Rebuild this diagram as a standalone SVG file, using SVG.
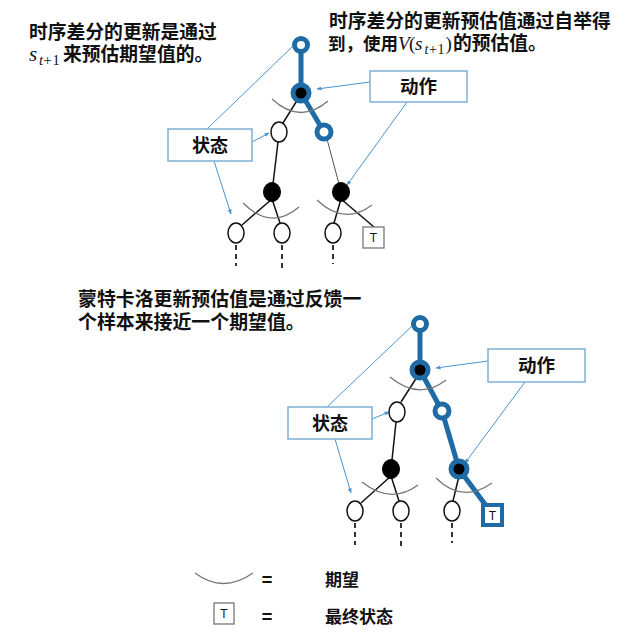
<svg xmlns="http://www.w3.org/2000/svg" width="641" height="634" viewBox="0 0 641 634">
<defs>
<marker id="arr" viewBox="0 0 10 10" refX="9" refY="5" markerWidth="5" markerHeight="5" orient="auto">
<path d="M0,1 L10,5 L0,9 z" fill="#4a95cf"/>
</marker>
<style>
.txt{font-family:"Noto Sans CJK SC","Noto Sans",sans-serif;font-weight:700;fill:#111;}
.mth{font-family:"Liberation Serif",serif;font-style:italic;fill:#111;}
.up{font-style:normal;}
.box{fill:#fff;stroke:#7fb0d5;stroke-width:1.5;}
.call{stroke:#4a95cf;stroke-width:1;fill:none;}
.bl{stroke:#1f6ba5;stroke-width:5;fill:none;stroke-linecap:round;}
.ln{stroke:#111;stroke-width:1.5;fill:none;}
.gl{stroke:#555;stroke-width:1;fill:none;}
.arc{stroke:#777;stroke-width:1.3;fill:none;}
.dash{stroke:#333;stroke-width:2;stroke-dasharray:5 4;fill:none;}
.sB{fill:#fff;stroke:#1f6ba5;stroke-width:5;}
.aB{fill:#000;stroke:#1f6ba5;stroke-width:5;}
.sW{fill:#fff;stroke:#111;stroke-width:1.5;}
.aK{fill:#000;stroke:#000;stroke-width:1;}
.tb{fill:#fff;stroke:#777;stroke-width:1.3;}
.tbB{fill:#fff;stroke:#1f6ba5;stroke-width:4;}
.tt{font-family:"Liberation Sans",sans-serif;font-size:12px;fill:#111;text-anchor:middle;}
</style>
</defs>
<rect width="641" height="634" fill="#fff"/>

<!-- texts -->
<g id="text-td-left">
<text class="txt" x="29" y="39" font-size="18.8">时序差分的更新是通过</text>
<text x="29" y="61"><tspan class="mth" font-size="21" x="29">s</tspan><tspan class="mth" font-size="14.5" x="39" y="65">t</tspan><tspan class="mth up" font-size="14.5" x="43.5">+</tspan><tspan class="mth up" font-size="14.5" x="52.5">1</tspan><tspan class="txt" font-size="18.8" x="63" y="61">来预估期望值的。</tspan></text>
</g>
<g id="text-td-right">
<text class="txt" x="329" y="28" font-size="18.8">时序差分的更新预估值通过自举得</text>
<text x="328" y="50"><tspan class="txt" font-size="17.5">到，使用</tspan><tspan class="mth" font-size="19" x="398">V</tspan><tspan class="mth up" font-size="19" x="409">(</tspan><tspan class="mth" font-size="19" x="415">s</tspan><tspan class="mth" font-size="14" x="424.5" y="54">t</tspan><tspan class="mth up" font-size="14" x="429">+</tspan><tspan class="mth up" font-size="14" x="437.5">1</tspan><tspan class="mth up" font-size="19" x="445.5" y="50">)</tspan><tspan class="txt" font-size="18.8" x="453">的预估值。</tspan></text>
</g>
<g id="text-mc">
<text class="txt" x="78" y="306" font-size="18.9" font-weight="500">蒙特卡洛更新预估值是通过反馈一</text>
<text class="txt" x="78" y="329" font-size="18.9" font-weight="500">个样本来接近一个期望值。</text>
</g>

<!-- connectors -->
<g id="connectors">
<!-- top tree -->
<line class="bl" x1="301" y1="45" x2="301" y2="93"/>
<line class="bl" x1="301" y1="93" x2="324" y2="132"/>
<line class="ln" x1="298" y1="99" x2="283" y2="123"/>
<line class="ln" x1="278" y1="142" x2="273" y2="184"/>
<line class="gl" x1="327" y1="139" x2="339" y2="184"/>
<line class="ln" x1="272" y1="199" x2="242" y2="225"/>
<line class="ln" x1="272" y1="199" x2="280" y2="223"/>
<line class="ln" x1="341" y1="199" x2="334" y2="223"/>
<line class="ln" x1="341" y1="199" x2="374" y2="227" stroke-width="2"/>
<path class="arc" d="M272,99 Q300,125 328,101"/>
<path class="arc" d="M243,203 Q271,231 299,207"/>
<path class="arc" d="M317,200 Q344,226 372,205"/>
<line class="dash" x1="236" y1="245" x2="236" y2="266"/>
<line class="dash" x1="282" y1="245" x2="282" y2="268"/>
<line class="dash" x1="333" y1="245" x2="333" y2="264"/>
<!-- bottom tree -->
<line class="bl" x1="420" y1="324" x2="420" y2="370"/>
<line class="bl" x1="420" y1="370" x2="442" y2="411"/>
<line class="bl" x1="442" y1="411" x2="459" y2="469"/>
<line class="bl" x1="459" y1="469" x2="487" y2="507"/>
<line class="ln" x1="417" y1="377" x2="401" y2="402"/>
<line class="ln" x1="396" y1="422" x2="392" y2="460"/>
<line class="ln" x1="391" y1="476" x2="361" y2="503"/>
<line class="ln" x1="391" y1="476" x2="399" y2="501"/>
<line class="ln" x1="459" y1="476" x2="453" y2="501"/>
<path class="arc" d="M390,377 Q419,401 446,380"/>
<path class="arc" d="M362,482 Q391,505 418,485"/>
<path class="arc" d="M436,478 Q462,504 492,483"/>
<line class="dash" x1="355" y1="523" x2="355" y2="545"/>
<line class="dash" x1="401" y1="523" x2="401" y2="547"/>
<line class="dash" x1="452" y1="523" x2="452" y2="543"/>
<!-- callouts top -->
<line class="call" x1="207" y1="129" x2="292" y2="47"/>
<line class="call" x1="252" y1="142" x2="269" y2="133" marker-end="url(#arr)"/>
<line class="call" x1="214" y1="161" x2="231" y2="214" marker-end="url(#arr)"/>
<line class="call" x1="370" y1="82" x2="317" y2="89" marker-end="url(#arr)"/>
<line class="call" x1="407" y1="102" x2="347" y2="185" marker-end="url(#arr)"/>
<!-- callouts bottom -->
<line class="call" x1="327" y1="407" x2="412" y2="326"/>
<line class="call" x1="372" y1="419" x2="389" y2="412" marker-end="url(#arr)"/>
<line class="call" x1="335" y1="439" x2="351" y2="493" marker-end="url(#arr)"/>
<line class="call" x1="488" y1="361" x2="436" y2="368" marker-end="url(#arr)"/>
<line class="call" x1="525" y1="382" x2="465" y2="463" marker-end="url(#arr)"/>
</g>

<!-- top tree nodes -->
<g id="td-s0"><circle class="sB" cx="301" cy="45" r="6.5"/></g>
<g id="td-a0"><circle class="aB" cx="301" cy="93" r="8"/></g>
<g id="td-s1l"><ellipse class="sW" cx="279" cy="132" rx="8" ry="10"/></g>
<g id="td-s1r"><circle class="sB" cx="324" cy="132" r="7"/></g>
<g id="td-a1l"><ellipse class="aK" cx="272" cy="192" rx="8.5" ry="9.5"/></g>
<g id="td-a1r"><ellipse class="aK" cx="341" cy="192" rx="8.5" ry="9.5"/></g>
<g id="td-l1"><ellipse class="sW" cx="236" cy="233" rx="8" ry="10"/></g>
<g id="td-l2"><ellipse class="sW" cx="282" cy="233" rx="8" ry="10"/></g>
<g id="td-l3"><ellipse class="sW" cx="333" cy="233" rx="8" ry="10"/></g>
<g id="td-t"><rect class="tb" x="363" y="227" width="21" height="21"/><text class="tt" x="373.5" y="242">T</text></g>
<g id="td-state-box"><rect class="box" x="168" y="129" width="84" height="32"/><text class="txt" x="210" y="152" font-size="18" text-anchor="middle">状态</text></g>
<g id="td-action-box"><rect class="box" x="370" y="71" width="97" height="31"/><text class="txt" x="418.5" y="93" font-size="18.5" text-anchor="middle">动作</text></g>

<!-- bottom tree nodes -->
<g id="mc-s0"><circle class="sB" cx="420" cy="324" r="6.5"/></g>
<g id="mc-a0"><circle class="aB" cx="420" cy="370" r="8"/></g>
<g id="mc-s1l"><ellipse class="sW" cx="397" cy="412" rx="8" ry="10"/></g>
<g id="mc-s1r"><circle class="sB" cx="442" cy="411" r="7"/></g>
<g id="mc-a1l"><ellipse class="aK" cx="391" cy="469" rx="8.5" ry="9.5"/></g>
<g id="mc-a1r"><circle class="aB" cx="459" cy="469" r="8"/></g>
<g id="mc-l1"><ellipse class="sW" cx="355" cy="511" rx="8" ry="10"/></g>
<g id="mc-l2"><ellipse class="sW" cx="401" cy="511" rx="8" ry="10"/></g>
<g id="mc-l3"><ellipse class="sW" cx="452" cy="511" rx="8" ry="10"/></g>
<g id="mc-t"><rect class="tbB" x="483" y="505" width="19" height="20"/><text class="tt" x="492.5" y="520">T</text></g>
<g id="mc-state-box"><rect class="box" x="288" y="407" width="84" height="32"/><text class="txt" x="330" y="430" font-size="18" text-anchor="middle">状态</text></g>
<g id="mc-action-box"><rect class="box" x="488" y="349" width="97" height="33"/><text class="txt" x="536.5" y="372" font-size="18.5" text-anchor="middle">动作</text></g>

<!-- legend -->
<g id="legend-expect">
<path class="arc" d="M195,573 Q223,594 253,573"/>
<text class="txt" x="267" y="586" font-size="18" text-anchor="middle">=</text>
<text class="txt" x="325" y="586" font-size="17" font-weight="500">期望</text>
</g>
<g id="legend-terminal">
<rect class="tb" x="214" y="603" width="20" height="21"/><text class="tt" x="224" y="618">T</text>
<text class="txt" x="267" y="623" font-size="18" text-anchor="middle">=</text>
<text class="txt" x="325" y="623" font-size="17" font-weight="500">最终状态</text>
</g>
</svg>
